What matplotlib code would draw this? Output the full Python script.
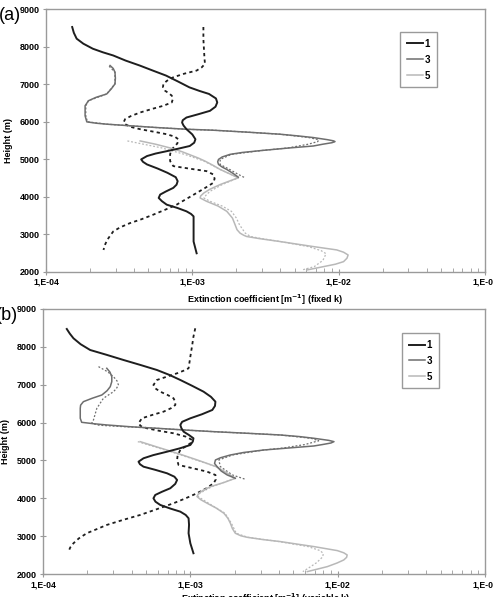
import matplotlib
matplotlib.use("Agg")
import matplotlib.pyplot as plt
from matplotlib.ticker import FixedLocator, LogLocator, NullFormatter

plt.rcParams['font.family'] = ['Liberation Sans', 'DejaVu Sans']

# ---------------- Panel (a): fixed k ----------------
a1_h = [8525, 8370, 8214, 8080, 7946, 7850, 7766, 7630, 7498, 7360, 7230, 7070, 6916, 6820, 6740,
        6620, 6514, 6400, 6290, 6200, 6112, 6040, 5978, 5900, 5800, 5660, 5532, 5440, 5352, 5280,
        5218, 5150, 5084, 4995, 4930, 4860, 4750, 4637, 4520, 4414, 4320, 4235, 4140, 4057, 3967,
        3880, 3788, 3700, 3610, 3540, 3475, 3162, 2804, 2491]
a1_x = [1.51e-4, 1.55e-4, 1.62e-4, 1.8e-4, 2.09e-4, 2.45e-4, 2.88e-4, 3.5e-4, 4.37e-4, 5.4e-4,
        6.61e-4, 8.0e-4, 9.55e-4, 1.12e-3, 1.3e-3, 1.45e-3, 1.48e-3, 1.44e-3, 1.32e-3, 1.1e-3,
        9.12e-4, 8.6e-4, 8.51e-4, 8.7e-4, 9.12e-4, 1.0e-3, 1.05e-3, 1.03e-3, 9.6e-4, 8.0e-4,
        6.76e-4, 5.6e-4, 4.9e-4, 4.47e-4, 4.6e-4, 4.9e-4, 5.8e-4, 6.76e-4, 7.7e-4, 7.94e-4,
        7.8e-4, 7.41e-4, 6.6e-4, 6.03e-4, 5.89e-4, 6.2e-4, 6.68e-4, 7.9e-4, 9.12e-4, 9.8e-4,
        1.02e-3, 1.02e-3, 1.02e-3, 1.07e-3]

a1d_h = [8525, 8200, 7946, 7700, 7543, 7450, 7364, 7280, 7185, 7090, 7007, 6920, 6828, 6760, 6694,
         6600, 6514, 6425, 6340, 6246, 6150, 6068, 5990, 5934, 5860, 5800, 5730, 5666, 5600, 5532,
         5420, 5307, 5220, 5129, 4950, 4816, 4750, 4682, 4593, 4480, 4370, 4240, 4100, 3950, 3788,
         3650, 3520, 3400, 3296, 3180, 3073, 2894, 2750, 2581]
a1d_x = [1.19e-3, 1.19e-3, 1.2e-3, 1.21e-3, 1.22e-3, 1.16e-3, 1.07e-3, 8.8e-4, 7.41e-4, 6.7e-4,
         6.34e-4, 6.3e-4, 6.5e-4, 6.9e-4, 7.24e-4, 7.35e-4, 7.24e-4, 6.34e-4, 5.3e-4, 4.4e-4,
         3.8e-4, 3.47e-4, 3.4e-4, 3.47e-4, 3.8e-4, 4.4e-4, 5.5e-4, 6.68e-4, 7.6e-4, 8.02e-4,
         7.9e-4, 7.41e-4, 7.15e-4, 7.05e-4, 7.05e-4, 7.41e-4, 9.5e-4, 1.25e-3, 1.39e-3, 1.42e-3,
         1.39e-3, 1.23e-3, 1.07e-3, 9.2e-4, 7.81e-4, 6.5e-4, 5.4e-4, 4.5e-4, 3.75e-4, 3.2e-4,
         2.88e-4, 2.67e-4, 2.55e-4, 2.47e-4]

a3_h = [7498, 7420, 7320, 7160, 7007, 6880, 6740, 6650, 6559, 6425, 6157, 5996, 5960, 5934, 5890,
        5844, 5800, 5773, 5720, 5666, 5620, 5577, 5520, 5490, 5470, 5440, 5400, 5352, 5300, 5236,
        5180, 5129, 5060, 4995, 4930, 4860, 4790, 4726, 4620, 4521]
a3_x = [2.74e-4, 2.88e-4, 2.96e-4, 2.98e-4, 2.96e-4, 2.8e-4, 2.6e-4, 2.2e-4, 1.95e-4, 1.85e-4,
        1.85e-4, 1.9e-4, 2.2e-4, 2.6e-4, 3.8e-4, 5.71e-4, 9.0e-4, 1.39e-3, 2.4e-3, 3.98e-3,
        5.3e-3, 6.71e-3, 8.4e-3, 9.2e-3, 9.44e-3, 9.0e-3, 7.8e-3, 6.71e-3, 4.6e-3, 3.05e-3,
        2.2e-3, 1.81e-3, 1.6e-3, 1.51e-3, 1.49e-3, 1.51e-3, 1.6e-3, 1.72e-3, 1.9e-3, 2.06e-3]

a3d_h = [7480, 7320, 7007, 6740, 6559, 6425, 6157, 5996, 5934, 5890, 5844, 5800, 5773, 5720, 5666,
         5580, 5520, 5470, 5400, 5300, 5236, 5129, 4995, 4860, 4726, 4600, 4500]
a3d_x = [2.7e-4, 2.96e-4, 2.96e-4, 2.6e-4, 1.95e-4, 1.87e-4, 1.87e-4, 1.92e-4, 2.6e-4, 3.8e-4,
         5.71e-4, 9.0e-4, 1.39e-3, 2.4e-3, 3.98e-3, 6.2e-3, 7.3e-3, 7.2e-3, 6.2e-3, 4.5e-3,
         3.05e-3, 1.85e-3, 1.55e-3, 1.55e-3, 1.8e-3, 2.05e-3, 2.3e-3]

a5_h = [5487, 5400, 5300, 5200, 5120, 5030, 4950, 4840, 4726, 4610, 4503, 4420, 4324, 4200, 4100,
        4020, 3967, 3878, 3750, 3610, 3430, 3252, 3120, 3028, 2970, 2939, 2880, 2804, 2740, 2670,
        2581, 2520, 2446, 2360, 2268, 2200, 2134, 2045]
a5_x = [4.4e-4, 5.6e-4, 7.05e-4, 8.5e-4, 9.6e-4, 1.1e-3, 1.22e-3, 1.38e-3, 1.55e-3, 1.8e-3,
        2.06e-3, 1.8e-3, 1.55e-3, 1.32e-3, 1.2e-3, 1.14e-3, 1.13e-3, 1.25e-3, 1.5e-3, 1.72e-3,
        1.88e-3, 1.96e-3, 2.02e-3, 2.12e-3, 2.25e-3, 2.35e-3, 2.9e-3, 3.98e-3, 5.1e-3, 6.71e-3,
        9.7e-3, 1.08e-2, 1.16e-2, 1.14e-2, 1.08e-2, 9.5e-3, 7.85e-3, 6.05e-3]

a5d_h = [5487, 5300, 5120, 4950, 4726, 4503, 4324, 4150, 4057, 3967, 3878, 3750, 3610, 3430, 3252,
         3028, 2939, 2880, 2804, 2670, 2560, 2480, 2300, 2134, 2045]
a5d_x = [3.6e-4, 6.2e-4, 9.0e-4, 1.2e-3, 1.55e-3, 2.06e-3, 1.6e-3, 1.33e-3, 1.25e-3, 1.2e-3,
         1.32e-3, 1.6e-3, 1.85e-3, 2.0e-3, 2.1e-3, 2.3e-3, 2.5e-3, 3.0e-3, 4.0e-3, 6.2e-3,
         7.6e-3, 8.2e-3, 7.8e-3, 6.8e-3, 5.6e-3]

# ---------------- Panel (b): variable k ----------------
b1_h = [8472, 8350, 8226, 8070, 7917, 7790, 7653, 7520, 7389, 7260, 7125, 6970, 6816, 6680, 6552,
        6440, 6333, 6220, 6113, 6020, 5937, 5850, 5760, 5670, 5585, 5500, 5408, 5320, 5231, 5140,
        5057, 4967, 4900, 4835, 4750, 4660, 4570, 4484, 4380, 4265, 4170, 4088, 4000, 3910, 3824,
        3730, 3647, 3560, 3472, 3300, 3076, 2812, 2548]
b1_x = [1.45e-4, 1.52e-4, 1.61e-4, 1.8e-4, 2.09e-4, 2.7e-4, 3.52e-4, 4.6e-4, 5.93e-4, 7.2e-4,
        8.55e-4, 1.03e-3, 1.23e-3, 1.38e-3, 1.48e-3, 1.47e-3, 1.41e-3, 1.2e-3, 1.0e-3, 8.8e-4,
        8.55e-4, 8.7e-4, 9.0e-4, 9.8e-4, 1.05e-3, 1.04e-3, 1.0e-3, 8.5e-4, 6.95e-4, 5.6e-4,
        4.81e-4, 4.45e-4, 4.55e-4, 4.81e-4, 5.8e-4, 6.95e-4, 7.8e-4, 8.13e-4, 7.9e-4, 7.31e-4,
        6.4e-4, 5.78e-4, 5.62e-4, 5.8e-4, 6.25e-4, 7.3e-4, 8.55e-4, 9.3e-4, 9.73e-4, 9.8e-4,
        9.73e-4, 1.0e-3, 1.05e-3]

b1d_h = [8490, 8270, 8049, 7740, 7434, 7370, 7302, 7210, 7125, 6993, 6900, 6816, 6730, 6641, 6550,
         6465, 6380, 6288, 6200, 6113, 5981, 5910, 5849, 5780, 5717, 5630, 5540, 5450, 5360, 5276,
         5140, 5011, 4879, 4790, 4703, 4616, 4500, 4397, 4260, 4133, 4000, 3869, 3710, 3560, 3430,
         3296, 3180, 3076, 2940, 2812, 2700, 2592]
b1d_x = [1.08e-3, 1.05e-3, 1.03e-3, 1.0e-3, 9.73e-4, 9.0e-4, 8.13e-4, 6.9e-4, 5.93e-4, 5.62e-4,
         5.8e-4, 6.25e-4, 7.0e-4, 7.69e-4, 7.9e-4, 7.91e-4, 7.4e-4, 6.58e-4, 5.5e-4, 4.69e-4,
         4.45e-4, 4.6e-4, 5.07e-4, 6.2e-4, 7.69e-4, 9.3e-4, 1.03e-3, 1.0e-3, 9.2e-4, 8.55e-4,
         8.2e-4, 8.13e-4, 8.32e-4, 1.05e-3, 1.3e-3, 1.48e-3, 1.49e-3, 1.44e-3, 1.28e-3, 1.11e-3,
         9.3e-4, 7.69e-4, 5.9e-4, 4.57e-4, 3.5e-4, 2.71e-4, 2.3e-4, 1.98e-4, 1.75e-4, 1.61e-4,
         1.53e-4, 1.49e-4]

b3_h = [7434, 7330, 7212, 7080, 6948, 6840, 6729, 6640, 6552, 6460, 6377, 6113, 6007, 5970, 5937,
        5890, 5849, 5800, 5760, 5715, 5672, 5630, 5585, 5530, 5496, 5460, 5420, 5382, 5330, 5276,
        5210, 5144, 5070, 5011, 4920, 4835, 4720, 4616, 4529]
b3_x = [2.71e-4, 2.85e-4, 2.93e-4, 2.93e-4, 2.86e-4, 2.72e-4, 2.51e-4, 2.15e-4, 1.88e-4, 1.8e-4,
        1.79e-4, 1.79e-4, 1.83e-4, 2.2e-4, 2.71e-4, 3.9e-4, 5.93e-4, 9.5e-4, 1.44e-3, 2.5e-3,
        4.09e-3, 5.5e-3, 6.9e-3, 8.7e-3, 9.44e-3, 9.0e-3, 7.9e-3, 6.9e-3, 4.7e-3, 3.16e-3,
        2.3e-3, 1.87e-3, 1.6e-3, 1.48e-3, 1.46e-3, 1.52e-3, 1.62e-3, 1.78e-3, 2.02e-3]

b3d_h = [7478, 7340, 7212, 7100, 6993, 6900, 6816, 6641, 6377, 6068, 5981, 5930, 5890, 5849, 5800,
         5760, 5715, 5672, 5585, 5520, 5420, 5330, 5276, 5144, 5011, 4835, 4616, 4500]
b3d_x = [2.38e-4, 2.75e-4, 3.01e-4, 3.18e-4, 3.25e-4, 3.15e-4, 3.01e-4, 2.57e-4, 2.32e-4, 2.2e-4,
         2.14e-4, 2.4e-4, 3.6e-4, 5.93e-4, 9.5e-4, 1.44e-3, 2.5e-3, 4.09e-3, 6.6e-3, 7.43e-3,
         6.0e-3, 4.3e-3, 3.16e-3, 1.93e-3, 1.56e-3, 1.6e-3, 1.93e-3, 2.37e-3]

b5_h = [5496, 5350, 5200, 5020, 4835, 4680, 4529, 4420, 4307, 4210, 4133, 4045, 3960, 3869, 3740,
        3604, 3470, 3340, 3200, 3076, 3010, 2970, 2910, 2856, 2790, 2724, 2618, 2560, 2503, 2440,
        2371, 2290, 2195, 2130, 2063]
b5_x = [4.57e-4, 6.0e-4, 8.0e-4, 1.1e-3, 1.5e-3, 1.75e-3, 2.02e-3, 1.7e-3, 1.37e-3, 1.22e-3,
        1.14e-3, 1.11e-3, 1.18e-3, 1.3e-3, 1.5e-3, 1.69e-3, 1.8e-3, 1.87e-3, 1.93e-3, 2.02e-3,
        2.2e-3, 2.43e-3, 3.1e-3, 4.09e-3, 5.3e-3, 6.9e-3, 9.95e-3, 1.1e-2, 1.16e-2, 1.15e-2,
        1.1e-2, 9.9e-3, 8.51e-3, 7.3e-3, 6.22e-3]

b5d_h = [5496, 5200, 4835, 4529, 4307, 4133, 4045, 3869, 3604, 3340, 3076, 2970, 2856, 2724, 2618,
         2540, 2450, 2300, 2150, 2063]
b5d_x = [4.4e-4, 7.8e-4, 1.5e-3, 2.02e-3, 1.4e-3, 1.16e-3, 1.13e-3, 1.33e-3, 1.72e-3, 1.9e-3,
         2.05e-3, 2.45e-3, 4.0e-3, 6.3e-3, 7.6e-3, 8.0e-3, 7.9e-3, 7.2e-3, 6.3e-3, 5.8e-3]

legend_labels = ["1", "3", "5"]
ytick_vals = [2000, 3000, 4000, 5000, 6000, 7000, 8000, 9000]
xtick_vals = [1e-4, 1e-3, 1e-2, 1e-1]
xtick_labels = ["1,E-04", "1,E-03", "1,E-02", "1,E-01"]

C1 = "#1e1e1e"
C3 = "#6e6e6e"
C5 = "#b8b8b8"
SP = "#9a9a9a"

fig = plt.figure(figsize=(4.93, 5.97), dpi=100)
W, H = 493.0, 597.0


def make_ax(l, r, t, b):
    return fig.add_axes([l / W, 1 - b / H, (r - l) / W, (b - t) / H])


ax_a = make_ax(46, 485, 9.2, 271.7)
ax_b = make_ax(43, 485, 309, 574)

panels = [
    (ax_a, (a1_x, a1_h), (a1d_x, a1d_h), (a3_x, a3_h), (a3d_x, a3d_h), (a5_x, a5_h), (a5d_x, a5d_h)),
    (ax_b, (b1_x, b1_h), (b1d_x, b1d_h), (b3_x, b3_h), (b3d_x, b3d_h), (b5_x, b5_h), (b5d_x, b5d_h)),
]

for ax, s1, s1d, s3, s3d, s5, s5d in panels:
    ax.plot(s5d[0], s5d[1], color=C5, lw=0.9, ls=(0, (1.5, 1.5)), solid_joinstyle='round')
    ax.plot(s3d[0], s3d[1], color=C3, lw=0.9, ls=(0, (1.5, 1.5)), solid_joinstyle='round')
    ax.plot(s1d[0], s1d[1], color=C1, lw=1.3, ls=(0, (1.8, 1.8)))
    l5, = ax.plot(s5[0], s5[1], color=C5, lw=1.1, solid_joinstyle='round')
    l3, = ax.plot(s3[0], s3[1], color=C3, lw=1.1, solid_joinstyle='round')
    l1, = ax.plot(s1[0], s1[1], color=C1, lw=1.4, solid_joinstyle='round')
    ax.set_xscale('log')
    ax.set_xlim(1e-4, 1e-1)
    ax.set_ylim(2000, 9000)
    ax.xaxis.set_major_locator(FixedLocator(xtick_vals))
    ax.set_xticklabels(xtick_labels)
    ax.xaxis.set_minor_locator(LogLocator(base=10, subs=range(2, 10)))
    ax.xaxis.set_minor_formatter(NullFormatter())
    ax.set_yticks(ytick_vals)
    ax.set_yticklabels([str(v) for v in ytick_vals])
    for s in ax.spines.values():
        s.set_color(SP)
        s.set_linewidth(1.0)
    ax.tick_params(axis='x', which='major', direction='inout', length=5, width=0.8, color=SP,
                   labelsize=6.2, pad=2)
    ax.tick_params(axis='x', which='minor', direction='in', length=3, width=0.6, color=SP)
    ax.tick_params(axis='y', which='major', direction='inout', length=5, width=0.8, color=SP,
                   labelsize=6.5, pad=2)
    for lab in ax.get_xticklabels() + ax.get_yticklabels():
        lab.set_fontweight('bold')
    ax.set_ylabel("Height (m)", fontsize=6.5, fontweight='bold', labelpad=5)
    leg = ax.legend([l1, l3, l5], legend_labels, loc='upper left', fontsize=7,
                    handlelength=1.7, handletextpad=0.15, labelspacing=0.6,
                    borderpad=0.7, fancybox=False, framealpha=1, borderaxespad=0)
    leg.get_frame().set_edgecolor(SP)
    leg.get_frame().set_linewidth(1.0)
    for t in leg.get_texts():
        t.set_fontweight('bold')

ax_a.get_legend().set_bbox_to_anchor((0.806, 0.913))
ax_b.get_legend().set_bbox_to_anchor((0.812, 0.909))

ax_a.set_xlabel("Extinction coefficient [m$^{\\mathbf{-1}}$] (fixed k)", fontsize=6.5,
                fontweight='bold', labelpad=4)
fig.text(266 / W, 1 - 599 / H, "Extinction coefficient [m$^{\\mathbf{-1}}$] (variable k)",
         fontsize=6.5, fontweight='bold', ha='center', va='center')

fig.text(21 / W, 1 - 16 / H, "(a)", fontsize=13, ha='right', va='center')
fig.text(18 / W, 1 - 316 / H, "(b)", fontsize=13, ha='right', va='center')

fig.savefig("out.png", dpi=100)
